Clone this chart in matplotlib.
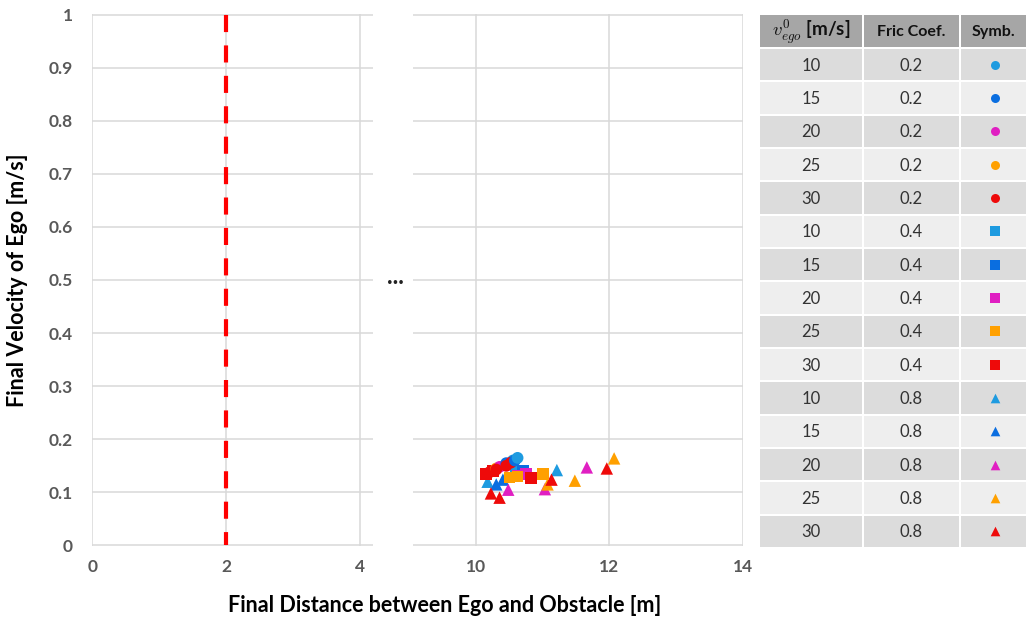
#!/usr/bin/env python3
"""Final ego velocity vs. final distance to obstacle, with a symbol key table."""

import matplotlib
matplotlib.use("Agg")
import matplotlib.pyplot as plt
from matplotlib.patches import Rectangle

plt.rcParams["font.family"] = ["Lato", "DejaVu Sans"]
plt.rcParams["mathtext.fontset"] = "cm"

SPEEDS = [10, 15, 20, 25, 30]
FRICTIONS = [0.2, 0.4, 0.8]
SPEED_COLORS = ["#1e9be0", "#0a6ee0", "#e01fc2", "#ffa000", "#ee0a0a"]
FRICTION_MARKERS = ["o", "s", "^"]

# friction 0.2 (circles)
f02_speed = [30, 25, 20, 30, 15, 30, 10, 30, 15, 10]
f02_dist = [10.20, 10.30, 10.35, 10.30, 10.45, 10.45, 10.55, 10.52, 10.58, 10.62]
f02_vel = [0.138, 0.145, 0.148, 0.143, 0.155, 0.150, 0.160, 0.156, 0.160, 0.165]

# friction 0.4 (squares)
f04_speed = [10, 15, 20, 20, 25, 25, 25, 30, 30, 30]
f04_dist = [10.60, 10.70, 10.62, 10.75, 10.50, 10.62, 11.00, 10.15, 10.25, 10.82]
f04_vel = [0.140, 0.140, 0.132, 0.135, 0.128, 0.130, 0.135, 0.135, 0.140, 0.127]

# friction 0.8 (triangles)
f08_speed = [10, 10, 15, 15, 20, 20, 20, 25, 25, 25, 30, 30, 30, 30]
f08_dist = [10.17, 11.21, 10.30, 10.40, 10.48, 11.03, 11.66,
            11.07, 11.48, 12.07, 10.22, 10.35, 11.13, 11.96]
f08_vel = [0.120, 0.142, 0.115, 0.124, 0.105, 0.106, 0.147,
           0.115, 0.122, 0.164, 0.098, 0.090, 0.124, 0.145]

BRAKE_DISTANCE = 2.0

GRID = "#d9d9d9"
TICK_COLOR = "#595959"

fig = plt.figure(figsize=(10.27, 6.2), dpi=100)
W, H = 1027, 620


def px_axes(x0, y0, x1, y1):
    return fig.add_axes([x0 / W, (H - y1) / H, (x1 - x0) / W, (y1 - y0) / H])


ax_l = px_axes(92, 14, 373, 546)
ax_r = px_axes(413, 14, 743, 546)

for ax in (ax_l, ax_r):
    ax.set_ylim(-0.001, 1.001)
    ax.set_yticks([i / 10 for i in range(11)])
    ax.grid(True, color=GRID, linewidth=1.1)
    ax.set_axisbelow(True)
    for s in ax.spines.values():
        s.set_visible(False)
    ax.tick_params(length=0, colors=TICK_COLOR, labelsize=12.5, pad=9)

ax_l.set_xlim(-0.005, 4.2)
ax_l.set_xticks([0, 2, 4])
ax_l.set_yticklabels(["0"] + [f"{i / 10:g}" for i in range(1, 10)] + ["1"],
                     fontweight="bold")
ax_l.set_xticklabels(["0", "2", "4"], fontweight="bold")
ax_l.tick_params(axis="y", pad=14)

ax_r.set_xlim(9.05, 14.005)
ax_r.set_xticks([10, 12, 14])
ax_r.set_xticklabels(["10", "12", "14"], fontweight="bold")
ax_r.tick_params(axis="y", labelleft=False)

ax_l.plot([BRAKE_DISTANCE, BRAKE_DISTANCE], [1, 0], color="#ff0000",
          linewidth=3.0, dashes=(4.1, 3.2), solid_capstyle="butt",
          dash_capstyle="butt", zorder=3)

groups = [
    (f08_speed, f08_dist, f08_vel, FRICTION_MARKERS[2], 80),
    (f04_speed, f04_dist, f04_vel, FRICTION_MARKERS[1], 70),
    (f02_speed, f02_dist, f02_vel, FRICTION_MARKERS[0], 72),
]
for speeds, dists, vels, marker, size in groups:
    colors = [SPEED_COLORS[SPEEDS.index(v)] for v in speeds]
    ax_r.scatter(dists, vels, c=colors, marker=marker, s=size,
                 linewidths=0, zorder=4)

fig.text(395 / W, 1 - 276 / H, "...", ha="center", va="center",
         fontsize=17, fontweight="bold", color="#222222")

fig.text(18 / W, 1 - 280 / H, "Final Velocity of Ego [m/s]", rotation=90,
         ha="center", va="center", fontsize=15.5, fontweight="bold")
fig.text(445 / W, 1 - 606 / H, "Final Distance between Ego and Obstacle [m]",
         ha="center", va="center", fontsize=15.5, fontweight="bold")

# key table
ax_t = px_axes(760, 15, 1026, 549)
ax_t.set_xlim(760, 1026)
ax_t.set_ylim(549, 15)
ax_t.axis("off")

cols = [(760, 862), (864, 959), (961, 1026)]
header = [r"$v^0_{ego}$ [m/s]", "Fric Coef.", "Symb."]
header_sizes = [13.5, 11.5, 11.5]
head_top, head_bot = 15, 47
for (c0, c1), txt, fs in zip(cols, header, header_sizes):
    ax_t.add_patch(Rectangle((c0, head_top), c1 - c0, head_bot - head_top,
                             facecolor="#a6a6a6", edgecolor="none"))
    ax_t.text((c0 + c1) / 2, (head_top + head_bot) / 2 + 1, txt,
              ha="center", va="center", fontsize=fs, fontweight="bold",
              color="#111111")

rows = [(v, f, SPEED_COLORS[i], FRICTION_MARKERS[j])
        for j, f in enumerate(FRICTIONS) for i, v in enumerate(SPEEDS)]
row_top = 49
row_h = (549 - row_top) / len(rows)
for k, (v, f, col, mk) in enumerate(rows):
    y0 = row_top + k * row_h
    fill = "#dcdcdc" if k % 2 == 0 else "#eeeeee"
    for c0, c1 in cols:
        ax_t.add_patch(Rectangle((c0, y0), c1 - c0, row_h - 2,
                                 facecolor=fill, edgecolor="none"))
    yc = y0 + (row_h - 2) / 2
    ax_t.text(sum(cols[0]) / 2, yc + 1, f"{v}", ha="center", va="center",
              fontsize=12, color="#333333")
    ax_t.text(sum(cols[1]) / 2, yc + 1, f"{f}", ha="center", va="center",
              fontsize=12, color="#333333")
    ax_t.scatter([sum(cols[2]) / 2 + 1], [yc], marker=mk, c=col,
                 s=42 if mk != "^" else 48, linewidths=0, zorder=3)

fig.savefig("out.png", dpi=100)
